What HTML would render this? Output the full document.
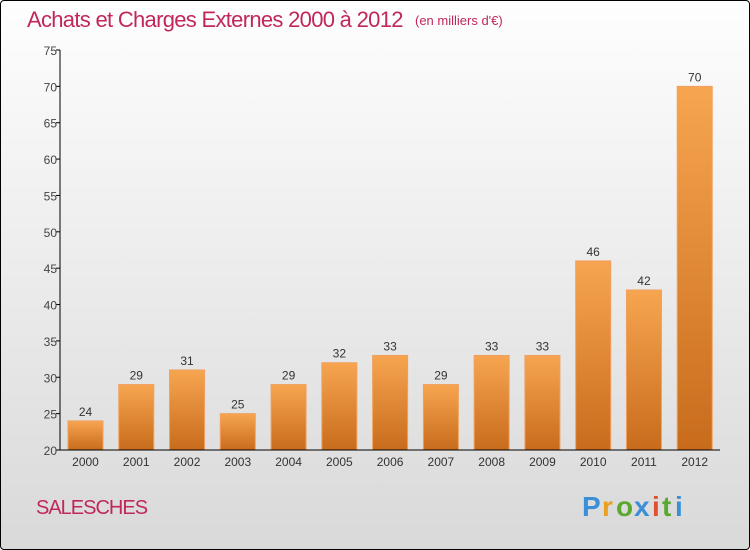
<!DOCTYPE html>
<html><head><meta charset="utf-8"><style>
body{margin:0;width:750px;height:550px;overflow:hidden;font-family:"Liberation Sans",sans-serif}
#frame{position:absolute;left:0;top:0;width:748px;height:548px;border:1px solid #000;border-radius:4px;background:linear-gradient(#fefefe,#d9d9d9)}
</style></head><body>
<div id="frame">
<svg id="svg" width="750" height="550" style="position:absolute;left:-1px;top:-1px">
<text x="27" y="27" font-size="22" fill="#c0285a" style="letter-spacing:-0.7px">Achats et Charges Externes 2000 à 2012</text>
<text x="415" y="25" font-size="13" fill="#c0285a">(en milliers d'€)</text>
<text x="36" y="514" font-size="20" fill="#c0285a" style="letter-spacing:-1px">SALESCHES</text>
<g font-size="28" font-weight="bold">
<text x="582" y="516" fill="#3a8fd8">P</text><text x="602" y="516" fill="#e8a020">r</text><text x="616" y="516" fill="#5aa830">o</text><text x="634" y="516" fill="#3a8fd8">x</text><text x="652" y="516" fill="#e05030">i</text><text x="662" y="516" fill="#5aa830">t</text><text x="675" y="516" fill="#3a8fd8">i</text>
</g>
<defs><linearGradient id="bg" x1="0" y1="0" x2="0" y2="1"><stop offset="0" stop-color="#f7a550"/><stop offset="1" stop-color="#c86c1c"/></linearGradient></defs>
<g id="bars"></g><g id="axes"></g>
</svg></div>
<script>
const years=["2000","2001","2002","2003","2004","2005","2006","2007","2008","2009","2010","2011","2012"];
const values=[24,29,31,25,29,32,33,29,33,33,46,42,70];
const yTicks=[20,25,30,35,40,45,50,55,60,65,70,75];
const NS="http://www.w3.org/2000/svg";
const x0=60,x1=720,yMin=20,yMax=75,py0=450,py1=50;
const y=v=>py0-(v-yMin)*(py0-py1)/(yMax-yMin);
const step=(x1-x0)/years.length;
const bars=document.getElementById('bars'),axes=document.getElementById('axes');
function mk(t,a,p){const e=document.createElementNS(NS,t);for(const k in a)e.setAttribute(k,a[k]);p.appendChild(e);return e;}
values.forEach((v,i)=>{
 const bx=x0+i*step+8;
 const r=mk('rect',{x:bx,y:y(v),width:35,height:py0-y(v),fill:'url(#bg)',stroke:'#f0a060','stroke-width':1},bars);
 
 
 const t=mk('text',{x:bx+17.5,y:y(v)-5,'text-anchor':'middle','font-size':12,fill:'#333'},bars);t.textContent=v;
 
 
 const l=mk('text',{x:bx+17.5,y:466,'text-anchor':'middle','font-size':12,fill:'#333'},axes);l.textContent=years[i];
 
 
});
const ya=mk('line',{x1:x0,y1:py1,x2:x0,y2:py0,stroke:'#000'},axes);


const xa=mk('line',{x1:x0,y1:py0,x2:x1,y2:py0,stroke:'#000'},axes);


yTicks.forEach(v=>{
 mk('line',{x1:x0-4,y1:y(v),x2:x0,y2:y(v),stroke:'#000'},axes);
 const t=mk('text',{x:x0-3,y:y(v)+5,'text-anchor':'end','font-size':12,fill:'#444'},axes);t.textContent=v;
 
 
});
</script>
</body></html>
